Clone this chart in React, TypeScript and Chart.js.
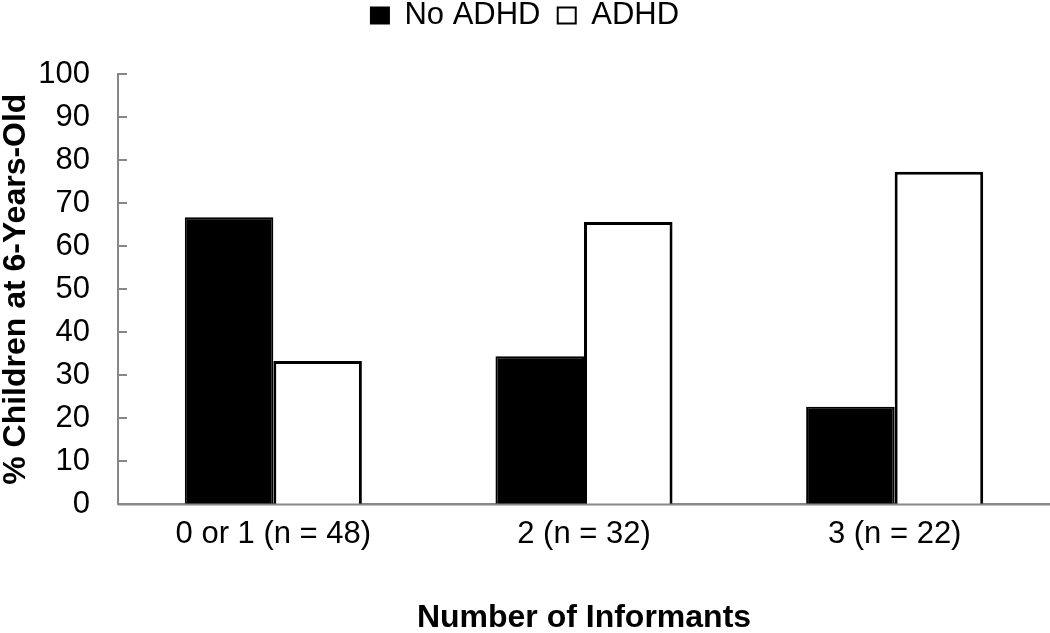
import React, { useEffect, useRef } from "react";
import { Chart, registerables } from "chart.js";

Chart.register(...registerables);

const categories = ["0 or 1 (n = 48)", "2 (n = 32)", "3 (n = 22)"];
const seriesNames = ["No ADHD", "ADHD"];
const noAdhdValues = [66.7, 34.4, 22.7];
const adhdValues = [33.3, 65.6, 77.3];
const yTitle = "% Children at 6-Years-Old";
const xTitle = "Number of Informants";

const FONT = "'Liberation Sans', Arial, sans-serif";
const AXIS_GRAY = "#878787";

const axisPlugin = {
  id: "axisDecor",
  afterDatasetsDraw(chart: any) {
    const { ctx, chartArea, scales } = chart;
    const y = scales.y;
    ctx.save();
    ctx.strokeStyle = AXIS_GRAY;
    ctx.lineWidth = 2;
    ctx.beginPath();
    ctx.moveTo(chartArea.left, chartArea.bottom);
    ctx.lineTo(chartArea.right, chartArea.bottom);
    ctx.stroke();
    y.ticks.forEach((t: any) => {
      const py = Math.round(y.getPixelForValue(t.value));
      ctx.beginPath();
      ctx.moveTo(chartArea.left, py);
      ctx.lineTo(chartArea.left + 9, py);
      ctx.stroke();
    });
    ctx.restore();
  },
};

export default function App() {
  const ref = useRef<HTMLCanvasElement | null>(null);

  useEffect(() => {
    if (!ref.current) return;
    const chart = new Chart(ref.current, {
      type: "bar",
      data: {
        labels: categories,
        datasets: [
          {
            label: seriesNames[0],
            data: noAdhdValues,
            backgroundColor: "#000000",
            borderColor: "#000000",
            borderWidth: 2,
          },
          {
            label: seriesNames[1],
            data: adhdValues,
            backgroundColor: "#ffffff",
            borderColor: "#000000",
            borderWidth: 3,
          },
        ],
      },
      options: {
        responsive: false,
        animation: false,
        layout: { padding: { top: 0, left: 0, right: 0, bottom: 0 } },
        datasets: {
          bar: { categoryPercentage: 0.57, barPercentage: 1.0 },
        },
        plugins: {
          tooltip: { enabled: false },
          legend: {
            position: "top",
            labels: {
              color: "#000",
              font: { family: FONT, size: 31, lineHeight: 1 },
              boxWidth: 18,
              boxHeight: 16,
              padding: 0,
              generateLabels: (c: any) => {
                const items = Chart.defaults.plugins.legend.labels.generateLabels(c);
                items.forEach((it: any, i: number) => {
                  it.lineWidth = 2;
                  if (i < items.length - 1) it.text = it.text + "  ";
                });
                return items;
              },
            },
          },
          title: {
            display: true,
            text: "",
            weight: 500,
            font: { size: 10, lineHeight: 1 },
            padding: { top: 23, bottom: 0 },
          } as any,
        },
        scales: {
          x: {
            grid: { display: false, drawTicks: false },
            border: { display: true, color: AXIS_GRAY, width: 2 },
            ticks: {
              color: "#000",
              padding: 11,
              maxRotation: 0,
              font: { family: FONT, size: 31 },
            },
            title: {
              display: true,
              text: xTitle,
              color: "#000",
              font: { family: FONT, size: 32, weight: "bold", lineHeight: 1.2 },
              padding: { top: 35, bottom: -4 },
            },
          },
          y: {
            min: 0,
            max: 100,
            afterFit: (scale: any) => {
              scale.width = 118;
            },
            grid: { display: false, drawTicks: false },
            border: { display: true, color: AXIS_GRAY, width: 2 },
            ticks: {
              stepSize: 10,
              color: "#000",
              padding: 28,
              font: { family: FONT, size: 31 },
            },
            title: {
              display: true,
              text: yTitle,
              color: "#000",
              font: { family: FONT, size: 32, weight: "bold", lineHeight: 1 },
              padding: { top: 0, bottom: 10 },
            },
          },
        },
      },
      plugins: [axisPlugin],
    });
    return () => chart.destroy();
  }, []);

  return (
    <div style={{ position: "absolute", left: 0, top: 0, width: 1050, height: 633, background: "#fff" }}>
      <canvas ref={ref} width={1050} height={633} />
    </div>
  );
}
